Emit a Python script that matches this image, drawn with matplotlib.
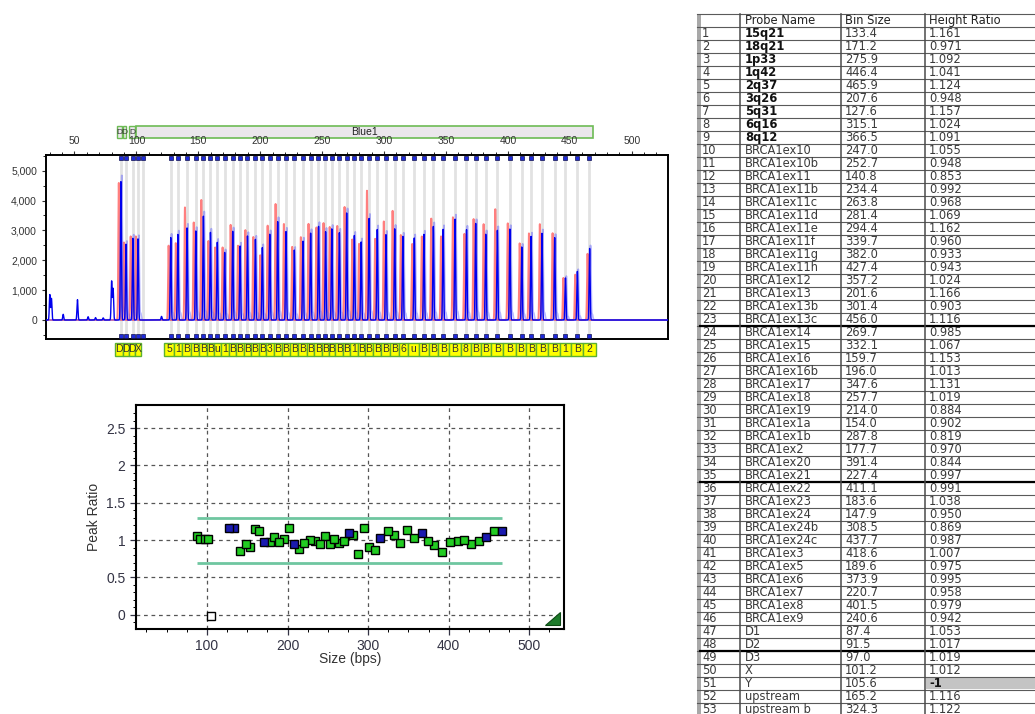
import numpy as np
import matplotlib.pyplot as plt
from matplotlib.patches import Rectangle, Polygon
from matplotlib.transforms import blended_transform_factory

plt.rcParams['font.family'] = ['Liberation Sans', 'DejaVu Sans']

# probe table (row order as exported)
probe_names = ['15q21', '18q21', '1p33', '1q42', '2q37', '3q26', '5q31', '6q16', '8q12',
               'BRCA1ex10', 'BRCA1ex10b', 'BRCA1ex11', 'BRCA1ex11b', 'BRCA1ex11c', 'BRCA1ex11d',
               'BRCA1ex11e', 'BRCA1ex11f', 'BRCA1ex11g', 'BRCA1ex11h', 'BRCA1ex12', 'BRCA1ex13',
               'BRCA1ex13b', 'BRCA1ex13c', 'BRCA1ex14', 'BRCA1ex15', 'BRCA1ex16', 'BRCA1ex16b',
               'BRCA1ex17', 'BRCA1ex18', 'BRCA1ex19', 'BRCA1ex1a', 'BRCA1ex1b', 'BRCA1ex2',
               'BRCA1ex20', 'BRCA1ex21', 'BRCA1ex22', 'BRCA1ex23', 'BRCA1ex24', 'BRCA1ex24b',
               'BRCA1ex24c', 'BRCA1ex3', 'BRCA1ex5', 'BRCA1ex6', 'BRCA1ex7', 'BRCA1ex8',
               'BRCA1ex9', 'D1', 'D2', 'D3', 'X', 'Y', 'upstream', 'upstream b']
bin_sizes = [133.4, 171.2, 275.9, 446.4, 465.9, 207.6, 127.6, 315.1, 366.5,
             247.0, 252.7, 140.8, 234.4, 263.8, 281.4, 294.4, 339.7, 382.0, 427.4,
             357.2, 201.6, 301.4, 456.0, 269.7, 332.1, 159.7, 196.0, 347.6, 257.7,
             214.0, 154.0, 287.8, 177.7, 391.4, 227.4, 411.1, 183.6, 147.9, 308.5,
             437.7, 418.6, 189.6, 373.9, 220.7, 401.5, 240.6, 87.4, 91.5, 97.0,
             101.2, 105.6, 165.2, 324.3]
height_ratios = [1.161, 0.971, 1.092, 1.041, 1.124, 0.948, 1.157, 1.024, 1.091,
                 1.055, 0.948, 0.853, 0.992, 0.968, 1.069, 1.162, 0.960, 0.933, 0.943,
                 1.024, 1.166, 0.903, 1.116, 0.985, 1.067, 1.153, 1.013, 1.131, 1.019,
                 0.884, 0.902, 0.819, 0.970, 0.844, 0.997, 0.991, 1.038, 0.950, 0.869,
                 0.987, 1.007, 0.975, 0.995, 0.958, 0.979, 0.942, 1.053, 1.017, 1.019,
                 1.012, -1, 1.116, 1.122]
n_control = 9   # rows 1-9 are reference probes

# reference (red) peak heights, same row order
ref_heights = [2575, 2430, 2700, 1410, 2220, 3160, 2490, 2850, 2890,
               3100, 3250, 3770, 2775, 3150, 2550, 2720, 3400, 3210, 3210,
               3440, 2170, 3300, 1520, 3790, 2800, 2650, 2780, 2800, 3120,
               3885, 4020, 4330, 3190, 3710, 2450, 2570, 2490, 3270, 3660,
               2910, 2900, 3010, 3385, 3220, 3240, 3220, 4590, 2600, 2800,
               2800, 0, 2430, 2550]

# non-probe peaks in the sample trace (primer / dimer region)
extra_pos = [30.1, 31.4, 40.9, 52.4, 61.0, 67.0, 73.2, 80.0, 81.2, 120.3]
extra_h = [850, 720, 190, 680, 110, 80, 70, 1300, 1050, 120]

ratio_hi, ratio_lo = 1.3, 0.7

sizes = np.array(bin_sizes)
ratios = np.array(height_ratios)
ref_h = np.array(ref_heights, dtype=float)
smp_h = np.clip(ref_h * ratios, 0, None)
order = np.argsort(sizes)

fig = plt.figure(figsize=(10.35, 7.14), dpi=100)

# ---------------- electropherogram ----------------
ax1 = fig.add_axes([46/1035, 1-339/714, 622/1035, 184/714])
x = np.arange(27, 530, 0.04)


def trace(pos, h, w=0.4):
    y = np.zeros_like(x)
    for p, hh in zip(pos, h):
        y += hh * np.exp(-0.5 * ((x - p) / w) ** 2)
    return y


red = trace(sizes - 1.6, ref_h)
blue_soft = trace(sizes + 0.8, smp_h) + trace(sizes + 2.2, smp_h * 0.08, 0.5)
blue = trace(sizes + 0.1, smp_h * 0.96) + trace(extra_pos, extra_h)

for s in sizes:
    ax1.axvline(s, color='#e2e2e2', lw=2.0, zorder=0)
ax1.plot(x, red, color='#ff2a2a', lw=1.4, alpha=0.6, zorder=2)
ax1.plot(x, blue_soft, color='#4a4aff', lw=1.3, alpha=0.4, zorder=3)
ax1.plot(x, blue, color='#0000ee', lw=1.0, zorder=3)

tr1 = blended_transform_factory(ax1.transData, ax1.transAxes)
ax1.plot(sizes, np.full(len(sizes), 0.985), 's', ms=2.6, color='#1e2adc',
         mec='#101050', mew=0.5, transform=tr1, clip_on=False, zorder=4)
ax1.plot(sizes, np.full(len(sizes), 0.015), 's', ms=2.6, color='#1e2adc',
         mec='#101050', mew=0.5, transform=tr1, clip_on=False, zorder=4)

ax1.set_xlim(27, 529.3)
ax1.set_ylim(-636, 5526)
ax1.xaxis.tick_top()
ax1.set_xticks(np.arange(50, 501, 50))
ax1.set_xticks(np.arange(30, 530, 10), minor=True)
ax1.set_yticks(np.arange(0, 5001, 1000))
ax1.set_yticks(np.arange(-500, 5501, 500), minor=True)
ax1.set_yticklabels(['{:,}'.format(v) for v in range(0, 5001, 1000)])
ax1.tick_params(labelsize=7.5, colors='#333333', length=3, width=0.8)
ax1.tick_params(which='minor', length=2, width=0.6)
for sp in ax1.spines.values():
    sp.set_linewidth(1.4)

# bin bar above the trace
ax1.add_patch(Rectangle((99.6, 1.092), 469 - 99.6, 0.066, transform=tr1, clip_on=False,
                        facecolor='#ebe7ec', edgecolor='#6dbb55', lw=1.2))
ax1.text(284, 1.125, 'Blue1', transform=tr1, ha='center', va='center', fontsize=7.5,
         color='#222222')
for x0, x1 in [(84.5, 88.0), (88.8, 91.6), (94.2, 98.8)]:
    ax1.add_patch(Rectangle((x0, 1.092), x1 - x0, 0.066, transform=tr1, clip_on=False,
                            facecolor='#ebe7ec', edgecolor='#6dbb55', lw=1.0))
    ax1.text((x0 + x1) / 2, 1.125, 'D', transform=tr1, ha='center', va='center',
             fontsize=6, color='#333333')

# probe label boxes under the trace, names cut to the box width
s_sorted = sizes[order]
names_sorted = [probe_names[i] for i in order]
smp_sorted = smp_h[order]
for k, (s, nm) in enumerate(zip(s_sorted, names_sorted)):
    if smp_sorted[k] <= 0:
        continue
    left = s - (s - s_sorted[k - 1]) / 2 if k > 0 and s - s_sorted[k - 1] < 12 else s - 5
    right = s + (s_sorted[k + 1] - s) / 2 if k < len(s_sorted) - 1 and s_sorted[k + 1] - s < 12 else s + 5
    box = Rectangle((left, -0.09), right - left, 0.07, transform=tr1, clip_on=False,
                    facecolor='#ffff00', edgecolor='#5cb030', lw=1.0)
    ax1.add_patch(box)
    n_chars = max(1, int((right - left) * 1.238 / 6.4))
    ax1.text((left + right) / 2, -0.055, nm[:n_chars], transform=tr1, ha='center',
             va='center', fontsize=7.5, color='#333333')

# ---------------- ratio plot ----------------
ax2 = fig.add_axes([136/1035, 1-629/714, 428/1035, 224/714])
ax2.hlines([ratio_hi, ratio_lo], sizes.min(), sizes.max(), color='#6fc6a0', lw=2, zorder=2)
ok = ratios >= 0
ctrl = np.arange(len(sizes)) < n_control
ax2.plot(sizes[ok & ~ctrl], ratios[ok & ~ctrl], 's', ms=5.5, color='#22cc22',
         mec='black', mew=1.0, zorder=3, ls='none')
ax2.plot(sizes[ok & ctrl], ratios[ok & ctrl], 's', ms=5.5, color='#1a1ab0',
         mec='black', mew=1.0, zorder=3, ls='none')
ax2.plot(sizes[~ok], np.clip(ratios[~ok], 0, None) - 0.02, 's', ms=5.5, color='white',
         mec='black', mew=1.0, zorder=3, ls='none')

ax2.set_xlim(12, 543)
ax2.set_ylim(-0.19, 2.81)
ax2.set_xticks(np.arange(100, 501, 100))
ax2.set_xticks(np.arange(25, 543, 25), minor=True)
ax2.set_yticks([0, 0.5, 1, 1.5, 2, 2.5])
ax2.set_yticks(np.arange(-0.1, 2.8, 0.1), minor=True)
ax2.set_yticklabels(['0', '0.5', '1', '1.5', '2', '2.5'])
ax2.grid(True, which='major', ls=(0, (3, 3)), color='#555555', lw=0.9)
ax2.tick_params(labelsize=10, colors='#333344', length=4, width=0.9)
ax2.tick_params(which='minor', length=2.5, width=0.7)
ax2.set_xlabel('Size (bps)', fontsize=10, color='#333333', labelpad=-1)
ax2.set_ylabel('Peak Ratio', fontsize=10, color='#333333')
for sp in ax2.spines.values():
    sp.set_linewidth(1.5)
ax2.add_patch(Polygon([[0.955, 0.02], [0.99, 0.02], [0.99, 0.075]], closed=True,
                      transform=ax2.transAxes, facecolor='#1d7a2a', edgecolor='#0c4a14',
                      lw=0.8, zorder=4))

# ---------------- results table ----------------
ax3 = fig.add_axes([697/1035, 0, 338/1035, 1])
ax3.set_xlim(697, 1035)
ax3.set_ylim(714, 0)
ax3.axis('off')

row_top, row_h = 13.8, 13.0
col_x = [697, 740, 841, 925, 1040]
n_rows = len(probe_names) + 1
bottom = row_top + n_rows * row_h
for i in range(n_rows + 1):
    y = row_top + i * row_h
    ax3.plot([697, 1040], [y, y], color='#5a5a5a', lw=0.8, clip_on=False)
for i in [24, 36, 49]:
    y = row_top + i * row_h
    ax3.plot([700, 1040], [y, y], color='black', lw=1.6, clip_on=False)
for cx in col_x[1:4]:
    ax3.plot([cx, cx], [row_top, bottom], color='#4a4a4a', lw=1.1, clip_on=False)
ax3.add_patch(Rectangle((697, row_top), 3.5, bottom - row_top, facecolor='#a8a8a8',
                        edgecolor='none'))

fs = 8.3
hy = row_top + row_h / 2
ax3.text(745, hy, 'Probe Name', fontsize=fs, va='center', family='DejaVu Sans', color='#222222')
ax3.text(845, hy, 'Bin Size', fontsize=fs, va='center', family='DejaVu Sans', color='#222222')
ax3.text(929, hy, 'Height Ratio', fontsize=fs, va='center', family='DejaVu Sans', color='#222222')
for i, (nm, bs, hr) in enumerate(zip(probe_names, bin_sizes, height_ratios)):
    y = row_top + (i + 1) * row_h + row_h / 2
    ax3.text(702, y, str(i + 1), fontsize=fs, va='center', family='DejaVu Sans', color='#3a3a3a')
    ax3.text(745, y, nm, fontsize=fs, va='center', family='DejaVu Sans',
             color='#111111' if i < n_control else '#3a3a3a',
             fontweight='bold' if i < n_control else 'normal')
    ax3.text(845, y, '{:.1f}'.format(bs), fontsize=fs, va='center', family='DejaVu Sans',
             color='#3a3a3a')
    if hr < 0:
        ax3.add_patch(Rectangle((925.5, y - row_h / 2 + 0.6), 115, row_h - 1.2,
                                facecolor='#c4c4c4', edgecolor='none', clip_on=False))
        ax3.text(929, y, '{:g}'.format(hr), fontsize=fs, va='center', family='DejaVu Sans',
                 color='#111111', fontweight='bold')
    else:
        ax3.text(929, y, '{:.3f}'.format(hr), fontsize=fs, va='center', family='DejaVu Sans',
                 color='#3a3a3a')

fig.savefig('out.png', dpi=100)
